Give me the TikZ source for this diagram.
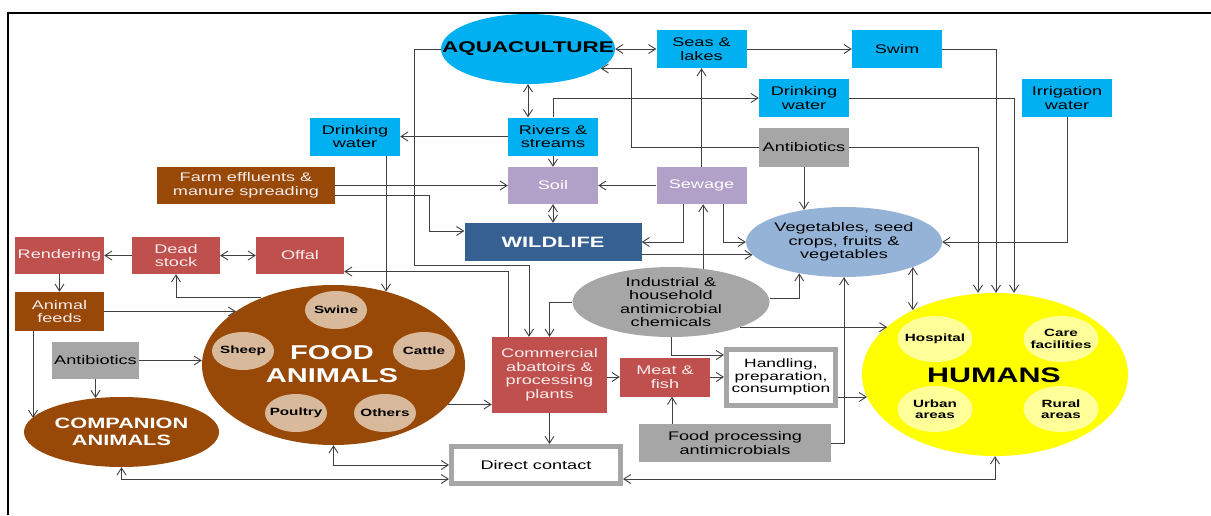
\documentclass[tikz,border=0pt]{standalone}
\usepackage{fontspec}
\setmainfont{Liberation Sans}[FakeStretch=1.45]
\usetikzlibrary{arrows.meta,shapes.geometric,calc}
\definecolor{WaterCyan}{HTML}{00B0F0}
\definecolor{ChemGray}{HTML}{A6A6A6}
\definecolor{SoilLilac}{HTML}{B1A0C7}
\definecolor{WildNavy}{HTML}{376092}
\definecolor{FarmBrown}{HTML}{984807}
\definecolor{MeatRed}{HTML}{C0504D}
\definecolor{VegBlue}{HTML}{95B3D7}
\definecolor{HumanYellow}{HTML}{FFFF00}
\definecolor{HumanPale}{HTML}{FFFF99}
\definecolor{AnimalTan}{HTML}{D9B99B}
\definecolor{LinkGray}{HTML}{404040}
\definecolor{PaleText}{HTML}{F6ECEC}
\newcommand{\lbl}{\fontsize{12.5}{13.5}\selectfont}
\newcommand{\sublbl}{\fontsize{10.5}{11.5}\selectfont\bfseries}

\begin{document}
\begin{tikzpicture}[x=1pt, y=-1pt,
    >={Straight Barb[length=7pt,width=9pt]},
    link/.style={->, LinkGray, line width=0.9pt},
    twoway/.style={<->, LinkGray, line width=0.9pt},
    box/.style={rectangle, inner sep=0pt, minimum width=90pt,
      minimum height=38pt, align=center, font=\lbl},
    water/.style={box, fill=WaterCyan},
    chem/.style={box, fill=ChemGray},
    lilac/.style={box, fill=SoilLilac, text=white},
    redbox/.style={box, fill=MeatRed, text=PaleText},
    brownbox/.style={box, fill=FarmBrown, text=PaleText},
    framed/.style={box, fill=white, draw=ChemGray, line width=5pt},
    oval/.style={ellipse, inner sep=0pt},
    blob/.style={oval, fill=AnimalTan, minimum width=62pt, minimum height=38pt},
    pale/.style={oval, fill=HumanPale, minimum width=75pt, minimum height=46pt}]
  \useasboundingbox (0,0) rectangle (1211,515);
  % page frame, open to the right and bottom
  \draw[line width=1.6pt] (8,515) -- (8,13) -- (1211,13);

  % water bodies and what comes out of them
  \node[oval, fill=WaterCyan, minimum width=174pt, minimum height=70pt]
    (aqua) at (528,49) {};
  \node[font=\bfseries\fontsize{15.5}{16}\selectfont] (aqua-t) at (aqua)
    {AQUACULTURE};
  \node[water] (seas) at (701.5,49) {Seas \&\\lakes};
  \node[water] (swim) at (897,49) {Swim};
  \node[water] (drinkR) at (804,98) {Drinking\\water};
  \node[water] (irrig) at (1067,98) {Irrigation\\water};
  \node[chem, minimum height=39pt] (antiT) at (804,147.5) {Antibiotics};
  \node[water] (rivers) at (553,136.5) {Rivers \&\\streams};
  \node[water] (drinkL) at (355,136.5) {Drinking\\water};
  \node[lilac, minimum height=37pt] (soil) at (553,185.5) {Soil};
  \node[lilac, minimum height=37pt] (sewage) at (701.5,185.5) {Sewage};
  \node[brownbox, minimum width=178pt, minimum height=37pt] (farm)
    at (246,185.5) {Farm effluents \&\\manure spreading};
  \node[box, fill=WildNavy, text=white, minimum width=177pt,
    font=\bfseries\fontsize{15}{16}\selectfont] (wild) at (553,242) {WILDLIFE};
  \node[oval, fill=VegBlue, minimum width=196pt, minimum height=70pt]
    (veg) at (844,242) {};
  \node[font=\lbl, align=center] (veg-t) at (veg)
    {Vegetables, seed\\crops, fruits \&\\vegetables};

  % animal side
  \node[redbox, minimum width=89pt, minimum height=37pt] (render)
    at (59.5,255.5) {Rendering};
  \node[redbox, minimum width=88pt, minimum height=37pt] (dead)
    at (176,255.5) {Dead\\stock};
  \node[redbox, minimum width=88pt, minimum height=37pt] (offal)
    at (300,255.5) {Offal};
  \node[brownbox, minimum width=89pt, minimum height=39pt] (feeds)
    at (59.5,311.5) {Animal\\feeds};
  \node[chem, minimum width=87pt, minimum height=37pt] (antiL)
    at (95.5,360.5) {Antibiotics};
  \node[oval, fill=FarmBrown, minimum width=195pt, minimum height=70pt]
    (comp) at (121.5,432) {};
  \node[text=white, align=center, font=\bfseries\fontsize{15}{16.5}\selectfont]
    (comp-t) at (comp) {COMPANION\\ANIMALS};
  \node[oval, fill=FarmBrown, minimum width=263pt, minimum height=160pt]
    (food) at (333.5,365) {};
  \node[blob] (swine) at (336,310) {};
  \node[blob] (sheep) at (243,351) {};
  \node[blob] (cattle) at (424,351) {};
  \node[blob] (poultry) at (296,413) {};
  \node[blob] (others) at (385,413) {};
  \node[font=\sublbl] (swine-t) at (swine) {Swine};
  \node[font=\sublbl] (sheep-t) at (sheep) {Sheep};
  \node[font=\sublbl] (cattle-t) at (cattle) {Cattle};
  \node[font=\sublbl] (poultry-t) at (poultry) {Poultry};
  \node[font=\sublbl] (others-t) at (others) {Others};
  \node[text=white, align=center, font=\bfseries\fontsize{20}{23}\selectfont]
    (food-t) at (332,364.5) {FOOD\\ANIMALS};

  % processing chain
  \node[redbox, minimum width=115pt, minimum height=76pt] (abatt)
    at (549.5,375) {Commercial\\abattoirs \&\\processing\\plants};
  \node[oval, fill=ChemGray, minimum width=197pt, minimum height=70pt]
    (indus) at (671,302) {};
  \node[font=\lbl, align=center] (indus-t) at (indus)
    {Industrial \&\\household\\antimicrobial\\chemicals};
  \node[redbox, minimum height=39pt] (meat) at (665,377) {Meat \&\\fish};
  \node[framed, minimum width=109pt, minimum height=56pt,
    font=\fontsize{12}{12.5}\selectfont] (handle) at (781,377)
    {Handling,\\preparation,\\consumption};
  \node[chem, minimum width=192pt] (foodproc) at (735,443)
    {Food processing\\antimicrobials};
  \node[framed, minimum width=169pt, minimum height=37pt] (direct)
    at (536,465) {Direct contact};

  % humans
  \node[oval, fill=HumanYellow, minimum width=266pt, minimum height=163pt]
    (humans) at (995,374.5) {};
  \node[pale] (hosp) at (935,339) {};
  \node[pale] (care) at (1061,339) {};
  \node[pale] (urban) at (935,409) {};
  \node[pale] (rural) at (1061,409) {};
  \node[font=\sublbl] (hosp-t) at (hosp) {Hospital};
  \node[font=\sublbl, align=center] (care-t) at (care) {Care\\facilities};
  \node[font=\sublbl, align=center] (urban-t) at (urban) {Urban\\areas};
  \node[font=\sublbl, align=center] (rural-t) at (rural) {Rural\\areas};
  \node[font=\bfseries\fontsize{21}{22}\selectfont] (humans-t) at (994,375)
    {HUMANS};

  % links among water, soil and crops
  \draw[twoway] (aqua.east) -- (seas.west);
  \draw[link] (seas) -- (swim);
  \draw[link] (swim.east) -| ([xshift=1pt]humans.north);
  \draw[link] (drinkR.east) -| ([xshift=19pt]humans.north);
  \draw[link] (antiT.east) -| ([xshift=-17pt]humans.north);
  \draw[link] (irrig.south) |- (veg.east);
  \draw[twoway] (aqua.south) -- (aqua.south |- rivers.north);
  \draw[link] (rivers.north) |- (drinkR.west);
  \draw[link] (rivers) -- (drinkL);
  \draw[link] (rivers) -- (soil);
  \draw[twoway] (soil) -- (wild);
  \draw[link] (sewage) -- (soil);
  \draw[link] (sewage) -- (seas);
  \draw[link] ([xshift=-18.5pt]sewage.south) |- (wild.east);
  \draw[link] ([xshift=21.5pt]sewage.south) |- (veg.west);
  \draw[link] (wild.east |- veg.188) -- (veg.188);
  \draw[link] (antiT.south) -- (antiT.south |- veg.141);
  \draw[link] (antiT.west) -| ([xshift=31pt]aqua.-15) -- (aqua.-15);
  \draw[twoway] (veg.-20) -- (veg.-20 |- humans.142);
  \draw[link] (farm) -- (soil);
  \draw[link] ([yshift=-10pt]farm.east) -| ([xshift=-35pt,yshift=11pt]wild.west)
    -- ([yshift=11pt]wild.west);

  % links from chemicals and processing
  \draw[link] (foodproc.east) -| (veg.south);
  \draw[link] ([xshift=-63pt]foodproc.north)
    -- ([xshift=-63pt]foodproc.north |- meat.south);
  \draw[link] ([yshift=4pt]indus.east) -| (veg.215);
  \draw[link] (indus.-20) -- (indus.-20 -| humans.156);
  \draw[link] (indus.west) -| (abatt.north);
  \draw[link] (indus.south) |- ([yshift=22pt]handle.west);
  \draw[link] (indus.46.5) -- (indus.46.5 |- sewage.south);
  \draw[link] (meat) -- (handle);
  \draw[link] (abatt.east |- meat.west) -- (meat.west);
  \draw[link] ([yshift=-20pt]handle.east) -- ([yshift=-20pt]handle.east -| humans.190);
  \draw[link] (abatt.south) -- (abatt.south |- direct.north);
  \draw[link] (aqua.west) -| ([xshift=-26pt,yshift=-216pt]aqua.west)
    -| ([xshift=-20.5pt]abatt.north);
  \draw[link] ([xshift=-41.5pt]abatt.north) |- ([yshift=-16pt]offal.east);

  % links on the animal side
  \draw[link] (food.-19.4) -- (food.-19.4 -| abatt.west);
  \draw[twoway] (food.south) |- (direct.west);
  \draw[twoway] (comp.south) |- ([yshift=-14pt]direct.west);
  \draw[twoway] ([yshift=-14pt]direct.east) -| (humans.south);
  \draw[link] (dead) -- (render);
  \draw[twoway] (dead) -- (offal);
  \draw[link] (render) -- (feeds);
  \draw[link] (feeds.east) -- (feeds.east -| food.151);
  \draw[link] ([xshift=-26.5pt]feeds.south)
    -- ([xshift=-26.5pt]feeds.south |- comp.171);
  \draw[link] (antiL.east) -- (antiL.east -| food.west);
  \draw[link] (antiL.south) -- (antiL.south |- comp.128);
  \draw[link] (food.137) -| (dead.south);
  \draw[link] ([xshift=31pt]drinkL.south) -- ([xshift=31pt]drinkL.south |- food.54);
\end{tikzpicture}
\end{document}
